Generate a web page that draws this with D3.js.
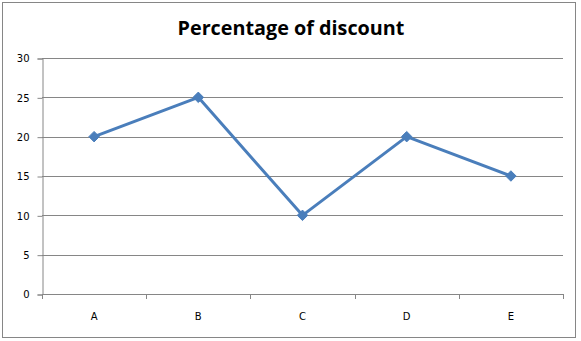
<!DOCTYPE html>
<html lang="en">
<head>
  <meta charset="UTF-8">
  <title>Percentage of discount</title>
  <script src="https://cdnjs.cloudflare.com/ajax/libs/d3/7.8.5/d3.min.js"></script>
  <style>
    body {
      margin: 0;
      background: white;
    }
    svg {
      display: block;
    }
    .tick-label {
      font-family: "DejaVu Sans", sans-serif;
      font-size: 10px;
      fill: #000;
    }
  </style>
</head>
<body>
  <script>
    var categories = ["A", "B", "C", "D", "E"];
    var discount = [20, 25, 10, 20, 15];
    var yTicks = [0, 5, 10, 15, 20, 25, 30];

    var w = 581;
    var h = 341;
    var plot = {left: 42, right: 563, top: 58, bottom: 294};

    var svg = d3.select("body").append("svg")
      .attr("width", w)
      .attr("height", h);

    // outer chart border
    svg.append("rect")
      .attr("x", 2.5)
      .attr("y", 2.5)
      .attr("width", 573)
      .attr("height", 335)
      .attr("fill", "white")
      .attr("stroke", "#868686")
      .attr("stroke-width", 1);

    svg.append("text")
      .attr("x", 291)
      .attr("y", 35)
      .attr("text-anchor", "middle")
      .style("font-family", "'Open Sans', sans-serif")
      .style("font-weight", "bold")
      .style("font-size", "19.8px")
      .text("Percentage of discount");

    var xScale = d3.scaleBand()
      .domain(categories)
      .range([plot.left, plot.right]);

    var yScale = d3.scaleLinear()
      .domain([0, 30])
      .range([plot.bottom, plot.top]);

    // gridlines
    svg.selectAll(".grid")
      .data(yTicks.slice(1))
      .enter()
      .append("line")
      .attr("x1", plot.left)
      .attr("x2", plot.right)
      .attr("y1", function(d) { return Math.round(yScale(d)) + 0.5; })
      .attr("y2", function(d) { return Math.round(yScale(d)) + 0.5; })
      .attr("stroke", "#868686");

    // y axis
    var yAxis = d3.axisLeft(yScale)
      .tickValues(yTicks)
      .tickSize(5)
      .tickPadding(8);
    var gy = svg.append("g")
      .attr("transform", "translate(" + (plot.left + 0.5) + ",0.5)")
      .call(yAxis);
    gy.select(".domain").attr("stroke", "#868686");
    gy.selectAll(".tick line").attr("stroke", "#868686");
    gy.selectAll(".tick text").attr("class", "tick-label").attr("font-family", null).attr("font-size", null);

    // x axis
    var xAxis = d3.axisBottom(xScale)
      .tickSize(0)
      .tickPadding(18);
    var gx = svg.append("g")
      .attr("transform", "translate(0," + (plot.bottom + 0.5) + ")")
      .call(xAxis);
    gx.select(".domain").attr("stroke", "#868686").attr("d", "M" + plot.left + ",0H" + plot.right);
    gx.selectAll(".tick text").attr("class", "tick-label").attr("font-family", null).attr("font-size", null);

    // category boundary ticks
    svg.selectAll(".xtick")
      .data(categories.concat([null]))
      .enter()
      .append("line")
      .attr("x1", function(d, i) { return Math.round(plot.left + i * xScale.step()) + 0.5; })
      .attr("x2", function(d, i) { return Math.round(plot.left + i * xScale.step()) + 0.5; })
      .attr("y1", plot.bottom)
      .attr("y2", plot.bottom + 5)
      .attr("stroke", "#868686");

    var line = d3.line()
      .x(function(d, i) { return xScale(categories[i]) + xScale.bandwidth() / 2; })
      .y(function(d) { return yScale(d); });

    svg.append("path")
      .datum(discount)
      .attr("d", line)
      .attr("fill", "none")
      .attr("stroke", "#4a7ebb")
      .attr("stroke-width", 3)
      .attr("stroke-linejoin", "round");

    svg.selectAll(".marker")
      .data(discount)
      .enter()
      .append("path")
      .attr("d", d3.symbol().type(d3.symbolDiamond2).size(70))
      .attr("transform", function(d, i) {
        return "translate(" + (xScale(categories[i]) + xScale.bandwidth() / 2) + "," + yScale(d) + ")";
      })
      .attr("fill", "#4a7ebb")
      .attr("stroke", "#4a7ebb");
  </script>
</body>
</html>
